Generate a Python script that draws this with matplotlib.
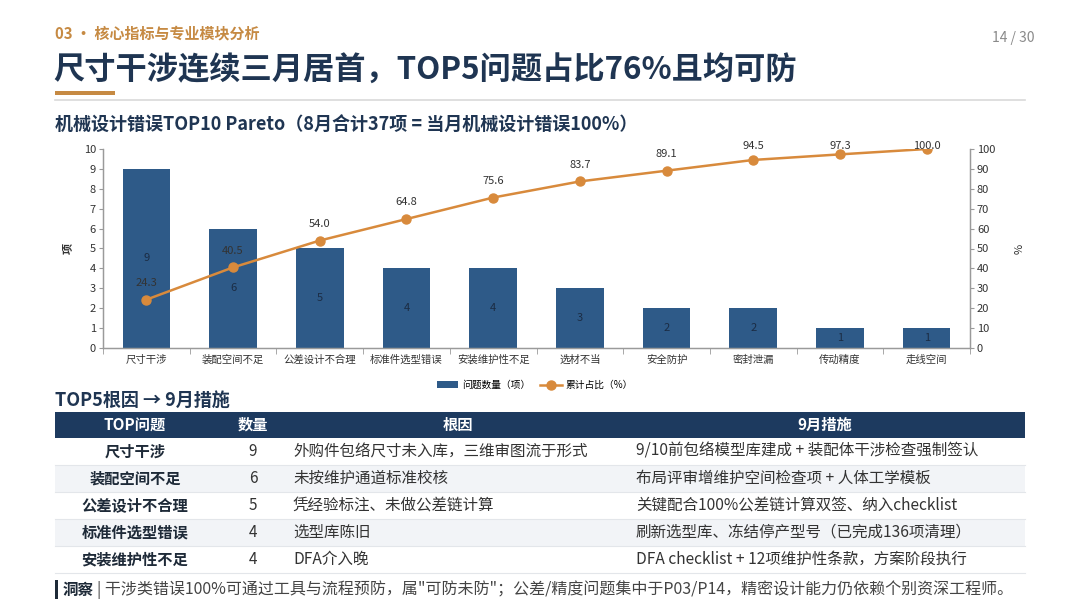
import numpy as np
import matplotlib
matplotlib.use('Agg')
import matplotlib.pyplot as plt
from matplotlib.patches import Rectangle

plt.rcParams['font.family'] = ['Noto Sans CJK SC', 'DejaVu Sans']

# ---- data ----
categories = ['尺寸干涉', '装配空间不足', '公差设计不合理', '标准件选型错误', '安装维护性不足',
              '选材不当', '安全防护', '密封泄漏', '传动精度', '走线空间']
counts = [9, 6, 5, 4, 4, 3, 2, 2, 1, 1]
cum_pct = [24.3, 40.5, 54.0, 64.8, 75.6, 83.7, 89.1, 94.5, 97.3, 100.0]

table_header = ['TOP问题', '数量', '根因', '9月措施']
table_issue = ['尺寸干涉', '装配空间不足', '公差设计不合理', '标准件选型错误', '安装维护性不足']
table_count = ['9', '6', '5', '4', '4']
table_cause = ['外购件包络尺寸未入库，三维审图流于形式',
               '未按维护通道标准校核',
               '凭经验标注、未做公差链计算',
               '选型库陈旧',
               'DFA介入晚']
table_action = ['9/10前包络模型库建成 + 装配体干涉检查强制签认',
                '布局评审增维护空间检查项 + 人体工学模板',
                '关键配合100%公差链计算双签、纳入checklist',
                '刷新选型库、冻结停产型号（已完成136项清理）',
                'DFA checklist + 12项维护性条款，方案阶段执行']

section = '03 • 核心指标与专业模块分析'
page_no = '14 / 30'
title = '尺寸干涉连续三月居首，TOP5问题占比76%且均可防'
chart_title = '机械设计错误TOP10 Pareto（8月合计37项 = 当月机械设计错误100%）'
table_title = 'TOP5根因 → 9月措施'
insight_head = '洞察'
insight_text = '| 干涉类错误100%可通过工具与流程预防，属"可防未防"；公差/精度问题集中于P03/P14，精密设计能力仍依赖个别资深工程师。'

NAVY = '#1f3552'
BAR = '#2e5a88'
ORANGE = '#d88a3c'
GOLD = '#c68a43'
W, H = 1080, 608

fig = plt.figure(figsize=(W / 100, H / 100), dpi=100)
fig.patch.set_facecolor('white')

# background layer in pixel coordinates
bg = fig.add_axes([0, 0, 1, 1])
bg.set_xlim(0, W)
bg.set_ylim(H, 0)
bg.axis('off')

bg.text(55, 33, section, fontsize=10.8, color=GOLD, va='center', fontweight='bold')
bg.text(1035, 38, page_no, fontsize=10, color='#8a8a8a', va='center', ha='right')
bg.text(53, 71, title, fontsize=22.5, color=NAVY, va='center', fontweight='bold')
bg.add_patch(Rectangle((55, 91), 60, 3.5, color=GOLD, lw=0))
bg.plot([55, 1025], [100, 100], color='#d9d9d9', lw=1.2)
bg.text(55, 125, chart_title, fontsize=13, color=NAVY, va='center', fontweight='bold')
bg.text(55, 400, table_title, fontsize=13, color=NAVY, va='center', fontweight='bold')

# ---- table ----
col_edges = [55, 215, 290, 625, 1025]
header_top, header_bot = 412, 438
row_h = 27
bg.add_patch(Rectangle((55, header_top), 970, header_bot - header_top, color='#1d3a5f', lw=0))
for i, lab in enumerate(table_header):
    cx = (col_edges[i] + col_edges[i + 1]) / 2
    bg.text(cx, (header_top + header_bot) / 2, lab, fontsize=11, color='white',
            fontweight='bold', ha='center', va='center')

for r in range(len(table_issue)):
    y0 = header_bot + r * row_h
    if r % 2 == 1:
        bg.add_patch(Rectangle((55, y0), 970, row_h, color='#f2f4f7', lw=0))
    bg.plot([55, 1025], [y0 + row_h, y0 + row_h], color='#e3e6ea', lw=0.8)
    yc = y0 + row_h / 2
    bg.text(135, yc, table_issue[r], fontsize=11, color='#1e2a38', fontweight='bold',
            ha='center', va='center')
    bg.text(253, yc, table_count[r], fontsize=11, color='#333333', ha='center', va='center')
    bg.text(293, yc, table_cause[r], fontsize=11.2, color='#333333', ha='left', va='center')
    bg.text(636, yc, table_action[r], fontsize=11.2, color='#333333', ha='left', va='center')

# insight line
bg.add_patch(Rectangle((55, 580), 3, 19, color='#1e2a38', lw=0))
bg.text(63, 590, insight_head, fontsize=11.2, color='#1e2a38', fontweight='bold', va='center')
bg.text(97, 590, insight_text, fontsize=11.5, color='#444444', va='center')

# ---- pareto chart ----
ax = fig.add_axes([103 / W, 1 - 348 / H, 867 / W, 199 / H])
x = np.arange(len(categories))
bars = ax.bar(x, counts, width=0.55, color=BAR, zorder=2, label='问题数量（项）')
ax.set_xlim(-0.5, len(categories) - 0.5)
ax.set_ylim(0, 10)
ax.set_yticks(range(0, 11))
ax.set_xticks(x)
ax.set_xticklabels(categories, fontsize=7.5, color='#333333')
ax.set_xticks(np.arange(-0.5, len(categories)), minor=True)
ax.tick_params(axis='x', which='major', length=0, pad=5)
ax.tick_params(axis='x', which='minor', length=4, color='#9a9a9a')
ax.tick_params(axis='y', labelsize=8, length=3, color='#9a9a9a', labelcolor='#333333', pad=2)
for s in ['left', 'bottom', 'right']:
    ax.spines[s].set_color('#9a9a9a')
    ax.spines[s].set_linewidth(0.9)
ax.spines['top'].set_visible(False)
ax.set_ylabel('项', fontsize=8, fontweight='bold', color='#333333', labelpad=7)

for xi, v in zip(x, counts):
    ax.text(xi, v / 2, str(v), ha='center', va='center', fontsize=8, color='#1b2c44', zorder=3)

ax2 = ax.twinx()
ax2.set_ylim(0, 100)
ax2.set_yticks(range(0, 101, 10))
ax2.tick_params(axis='y', labelsize=8, length=3, color='#9a9a9a', labelcolor='#333333', pad=2)
for s in ['left', 'bottom', 'right']:
    ax2.spines[s].set_color('#9a9a9a')
    ax2.spines[s].set_linewidth(0.9)
ax2.spines['top'].set_visible(False)
ax2.set_ylabel('%', fontsize=8, color='#333333', labelpad=14)
line, = ax2.plot(x, cum_pct, color=ORANGE, lw=1.8, marker='o', markersize=6.5,
                 markerfacecolor=ORANGE, markeredgecolor=ORANGE, zorder=4, label='累计占比（%）')
for xi, v in zip(x, cum_pct):
    ax2.text(xi, min(v + 8.4, 101.5), f'{v:.1f}', ha='center', va='center', fontsize=8,
             color='#333333', clip_on=False, zorder=5)

fig.legend(handles=[bars, line], loc='center', bbox_to_anchor=(535 / W, 1 - 385 / H),
           ncol=2, frameon=False, fontsize=7, handlelength=2.2, columnspacing=1.0,
           handletextpad=0.4)

fig.savefig('out.png', dpi=100)
